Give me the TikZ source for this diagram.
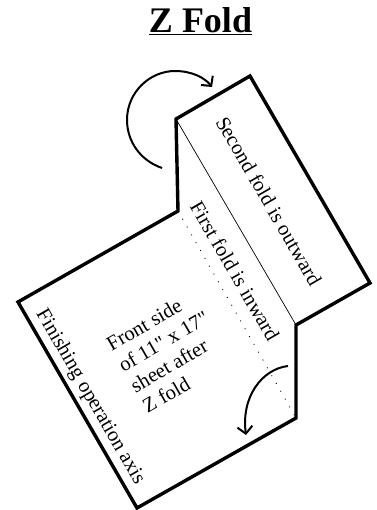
\documentclass[tikz,border=0pt]{standalone}
\usepackage{fontspec}
\setmainfont{Liberation Serif}[Ligatures=TeXOff]
\usetikzlibrary{arrows.meta}
\tikzset{
    sheet/.style={line width=3.4pt, line join=miter},
    turn/.style={line width=2pt, -{Straight Barb[length=7pt,width=15pt,line width=2pt]}},
    label/.style={font=\fontsize{20.6}{24}\selectfont, inner sep=0pt, align=left},
}

\begin{document}
\begin{tikzpicture}[auto, x=1pt, y=-1pt]
    \useasboundingbox (0,0) rectangle (376,510);
    \node[font=\fontsize{36}{36}\selectfont\bfseries, inner sep=0pt] (title) at (200.5,21) {\underline{Z Fold}};
    \coordinate (A) at (250,76);
    \coordinate (B) at (176,119);
    \coordinate (C) at (178,211);
    \coordinate (D) at (18,302);
    \coordinate (E) at (137,508);
    \coordinate (F) at (296,418);
    \coordinate (G) at (296,325);
    \coordinate (H) at (370,283);
    \draw[sheet] (A) -- (B) -- (C) -- (D) -- (E) -- (F) -- (G) -- (H) -- cycle;
    \draw[line width=0.7pt] (B) to (G);
    \draw[line width=0.8pt, dash pattern=on 1pt off 8pt] (C) to (F);
    \node[label, rotate=-60] (second) at (269,201) {Second fold is outward};
    \node[label, rotate=-60] (first) at (235,271) {First fold is inward};
    \node[label, rotate=-60] (axis) at (90,397) {Finishing operation axis};
    \node[label, rotate=30] (front) at (169.5,351.5) {Front side\\of 11" x 17"\\sheet after\\Z fold};
    \coordinate (P) at (162,168);
    \coordinate (Q) at (212,87);
    \coordinate (R) at (288,366);
    \coordinate (S) at (246,435);
    \draw[turn] (P) .. controls (139,160) and (127,140) .. (127,120) .. controls (127,92) and (150,71) .. (175,71) .. controls (192,71) and (205,78) .. (Q);
    \draw[turn] (R) .. controls (262,369) and (241,397) .. (S);
\end{tikzpicture}
\end{document}
